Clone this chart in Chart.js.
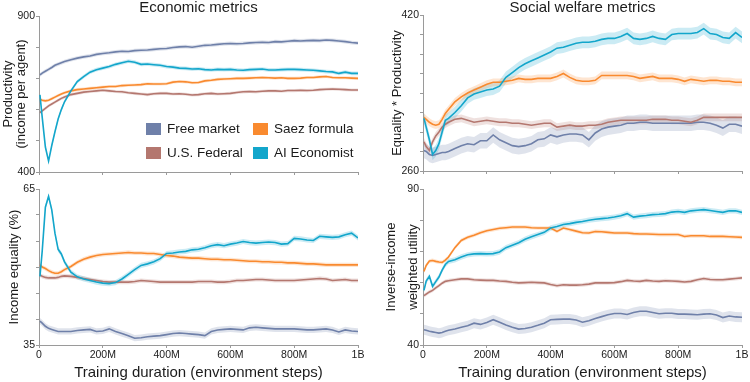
<!DOCTYPE html>
<html>
<head>
<meta charset="utf-8">
<script src="https://cdn.jsdelivr.net/npm/chart.js@4/dist/chart.umd.min.js"></script>
<style>
  body { margin: 0; background: #fff; }
  .panel { position: absolute; }
  .panel canvas { display: block; }
</style>
</head>
<body>
<div class="panel" style="left:0;top:0"><canvas id="prod" width="375" height="182"></canvas></div>
<div class="panel" style="left:375px;top:0"><canvas id="eqprod" width="375" height="182"></canvas></div>
<div class="panel" style="left:0;top:180px"><canvas id="equality" width="375" height="202"></canvas></div>
<div class="panel" style="left:375px;top:180px"><canvas id="utility" width="375" height="202"></canvas></div>
<script>
Chart.defaults.font.family = '"Liberation Sans", Arial, sans-serif';
Chart.defaults.color = '#1b1b1b';

// training steps, in millions
var xSteps = [3, 10, 20, 30, 40, 50, 60, 70, 80,
  100, 120, 140, 160, 180, 200, 220, 240, 260, 280, 300, 320, 340, 360, 380,
  400, 420, 440, 460, 480, 500, 520, 540, 560, 580, 600, 620, 640, 660, 680,
  700, 720, 740, 760, 780, 800, 820, 840, 860, 880, 900, 920, 940, 960, 980, 1000];

var seriesNames = ['Free market', 'Saez formula', 'U.S. Federal', 'AI Economist'];
var lineColors = ['#6f80a9', '#f98a2f', '#b4776f', '#13a6cb'];
var bandColors = ['rgba(111,128,169,0.22)', 'rgba(249,138,47,0.22)', 'rgba(180,119,111,0.22)', 'rgba(19,166,203,0.22)'];
var lineOrder = [4, 2, 3, 1];

// Productivity (income per agent)
var prodFree = [711,717,723,729,735,742,746,750,754, 760,765,769,772,777, 780,782,785,787,786, 789,790,791,793,795, 796,799,801,802,800, 803,806,807,809,811, 812,811,812,814,815, 816,815,818,817,819, 821,820,821,822,821, 823,822,820,818,815, 813];
var prodSaez = [633,630,628,630,635,640,645,650,654, 660,664,666,668,670, 672,674,674,677,678, 679,680,683,682,682, 683,688,690,689,686, 687,692,694,697,698, 699,700,700,701,702, 703,702,701,702,700, 700,701,703,703,705, 706,703,702,702,701, 700];
var prodUS = [590,596,604,612,618,624,630,636,640, 648,652,656,658,660, 662,660,658,657,654, 652,650,648,651,652, 652,650,651,649,647, 648,651,652,650,651, 652,655,657,658,657, 659,660,660,659,661, 661,662,661,662,664, 665,666,665,664,663, 663];
var prodAI = [647,576,480,435,485,529,570,600,625, 660,690,706,720,728, 733,738,745,750,755, 752,745,746,744,742, 738,736,733,732,730, 731,728,727,729,728, 729,727,726,728,729, 730,727,727,728,729, 729,728,727,726,724, 722,721,716,720,716, 716];
var prodBands = [6, 5, 5, 6];

// Equality * Productivity
var eqFree = [281,280,277,276,277,278,279,279,280, 283,286,288,287,291, 291,297,292,289,286, 285,286,288,292,293, 297,295,297,298,298, 297,292,299,303,305, 306,307,309,309,310, 310,309,309,309,309, 309,309,309,310,310, 309,307,304,308,308, 306];
var eqSaez = [315,313,310,308,307,308,313,319,323, 331,336,340,343,346, 349,351,351,352,353, 355,354,354,355,355, 355,357,360,356,353, 352,352,353,358,358, 358,358,358,357,355, 356,357,355,355,355, 354,352,354,353,352, 353,353,352,352,351, 351];
var eqUS = [290,285,281,290,296,300,305,308,310, 313,314,312,310,311, 312,311,310,310,309, 309,308,307,308,309, 309,305,306,307,306, 306,307,307,308,310, 311,312,312,312,312, 312,313,313,313,312, 312,311,310,312,315, 315,315,315,315,315, 315];
var eqAI = [314,305,292,277,281,288,300,312,314, 320,327,335,339,341, 343,344,347,356,361, 366,370,373,376,379, 382,386,387,389,391, 392,392,393,395,396, 396,398,401,396,395, 396,398,396,395,400, 401,401,401,402,406, 401,400,397,396,402, 397];
var eqBands = [8, 4, 4, 6];

// Income equality (%)
var equFree = [39.6,39.2,38.6,38.2,38.0,37.8,37.6,37.6,37.6, 37.6,37.8,37.9,38.0,37.6, 37.7,38.1,37.6,37.2,36.8, 36.3,36.4,36.6,36.7,36.8, 37.0,37.2,37.3,37.2,37.1, 37.0,36.8,37.6,37.9,38.0, 38.1,38.0,37.9,38.3,38.4, 38.3,38.2,38.1,38.1,38.1, 38.1,38.0,37.9,37.9,38.0, 38.1,37.9,37.5,37.9,37.7, 37.6];
var equSaez = [50.4,50.0,49.7,49.3,49.0,48.8,48.8,49.1,49.5, 50.1,50.9,51.5,51.9,52.2, 52.4,52.5,52.6,52.7,52.8, 52.7,52.7,52.6,52.6,52.4, 52.2,52.1,51.9,51.8,51.7, 51.7,51.6,51.5,51.5,51.4, 51.4,51.3,51.2,51.1,51.1, 51.0,51.0,50.9,50.9,50.8, 50.8,50.7,50.6,50.6,50.5, 50.4,50.4,50.4,50.4,50.4, 50.4];
var equUS = [48.5,48.2,48.0,47.9,47.9,47.9,48.0,48.2,48.3, 48.2,48.0,47.8,47.6,47.4, 47.2,47.1,47.1,47.1,47.1, 47.2,47.4,47.3,47.2,47.1, 47.1,47.1,47.1,47.1,47.1, 47.2,47.2,47.2,47.1,47.1, 47.2,47.4,47.4,47.5,47.6, 47.6,47.5,47.4,47.4,47.4, 47.4,47.5,47.6,47.7,47.8, 47.7,47.4,47.5,47.6,47.4, 47.4];
var equAI = [48.2,53.0,61.5,63.6,61.0,56.5,53.4,52.5,51.0, 49.0,48.1,47.7,47.4,47.1, 46.9,46.8,47.0,47.7,48.6, 49.5,50.3,50.6,51.0,51.6, 52.6,52.7,52.9,53.0,53.3, 53.4,53.7,54.1,54.3,54.1, 54.4,54.6,54.9,54.7,54.6, 54.7,54.8,54.7,54.4,54.5, 55.5,55.4,55.2,55.1,55.9, 55.8,55.7,55.8,56.2,56.5, 55.6];
var equBands = [0.6, 0.4, 0.4, 0.5];

// Inverse-income weighted utility
var utilFree = [44.9,44.7,44.4,44.2,44.0,43.8,44.0,44.4,44.7, 45.1,45.7,46.2,47.0,46.6, 47.2,48.1,47.3,46.4,45.7, 45.1,45.3,45.7,46.3,47.0, 48.1,48.2,48.3,48.3,48.0, 47.3,47.8,48.5,49.1,49.7, 50.1,50.1,49.8,50.4,50.8, 50.8,50.4,50.0,50.2,50.2, 49.9,49.9,49.8,49.7,49.9, 50.0,49.6,48.8,49.3,49.0, 48.9];
var utilSaez = [63.6,65.5,66.9,67.1,66.8,66.6,66.5,67.2,68.2, 71.2,73.5,74.5,75.2,76.0, 76.6,77.0,77.4,77.6,77.8, 77.8,77.8,77.6,77.5,77.5, 77.5,76.4,77.5,77.0,76.5, 76.0,75.9,76.4,76.3,76.1, 75.9,75.9,75.9,75.7,75.6, 75.6,75.5,75.4,75.4,75.4, 75.4,74.8,75.0,75.0,75.0, 74.8,74.8,74.8,74.7,74.6, 74.5];
var utilUS = [55.8,56.3,57.0,57.5,58.3,59.0,59.8,60.4,60.6, 60.9,61.2,61.2,60.9,60.8, 60.7,60.7,60.5,60.4,60.1, 59.9,60.0,60.1,60.0,59.9, 59.4,59.0,59.3,59.2,59.2, 59.3,59.5,59.9,59.9,59.9, 60.0,60.3,60.7,60.5,60.4, 60.7,60.5,60.4,60.6,60.5, 60.4,60.2,60.4,60.9,61.3, 61.0,60.9,60.9,61.1,61.3, 61.5];
var utilAI = [57.5,60.5,62.0,58.8,60.3,61.8,64.0,65.8,66.8, 67.3,68.2,68.9,69.2,69.3, 69.2,69.3,69.8,71.2,72.0, 72.8,73.9,74.7,75.4,76.1, 77.5,78.0,78.6,78.9,79.3, 79.6,80.0,80.3,80.5,80.7, 81.0,81.4,82.1,81.0,81.3, 81.5,81.8,81.9,82.1,82.6, 82.8,82.5,83.0,83.2,83.4, 83.1,82.8,82.5,83.0,83.0, 82.5];
var utilBands = [1.6, 0.6, 0.6, 0.85];

function points(vals, shift) {
  return vals.map(function(v, k) { return { x: xSteps[k], y: v + shift }; });
}

function buildDatasets(series, bands) {
  var sets = [];
  // shaded bands first: upper edge, then lower edge filled back to it
  series.forEach(function(vals, i) {
    sets.push({ data: points(vals, bands[i]), borderWidth: 0, borderColor: 'transparent', pointRadius: 0, fill: false, order: 10 });
    sets.push({ data: points(vals, -bands[i]), borderWidth: 0, borderColor: 'transparent', pointRadius: 0, fill: '-1', backgroundColor: bandColors[i], order: 10 });
  });
  series.forEach(function(vals, i) {
    sets.push({ label: seriesNames[i], data: points(vals, 0), borderColor: lineColors[i], borderWidth: 1.6, pointRadius: 0, fill: false, order: lineOrder[i] });
  });
  return sets;
}

var legendBox = {
  id: 'legendBox',
  afterDraw: function(chart) {
    var ctx = chart.ctx;
    var a = chart.chartArea;
    ctx.save();
    ctx.font = '13.5px "Liberation Sans", Arial, sans-serif';
    ctx.textBaseline = 'middle';
    seriesNames.forEach(function(name, i) {
      var x = a.left + 107 + (i % 2) * 107;
      var y = a.top + 113 + Math.floor(i / 2) * 24;
      ctx.fillStyle = lineColors[i];
      ctx.fillRect(x, y - 6, 15, 12);
      ctx.fillStyle = '#1b1b1b';
      ctx.fillText(name, x + 21, y);
    });
    ctx.restore();
  }
};

function makePanel(id, cfg) {
  var yMin = cfg.yRange[0], yMax = cfg.yRange[1];
  new Chart(document.getElementById(id), {
    type: 'line',
    data: { datasets: buildDatasets(cfg.series, cfg.bands) },
    options: {
      responsive: false,
      animation: false,
      events: [],
      layout: { padding: cfg.padding },
      plugins: {
        legend: { display: false },
        tooltip: { enabled: false },
        filler: { drawTime: 'beforeDatasetsDraw' },
        title: {
          display: !!cfg.title,
          text: cfg.title || '',
          fullSize: false,
          color: '#1b1b1b',
          font: { size: 15, weight: 'normal', lineHeight: 1 },
          padding: { top: 0, bottom: cfg.titleGap || 0 }
        }
      },
      scales: {
        x: {
          type: 'linear',
          min: 0,
          max: 1000,
          afterFit: function(scale) { scale.height = cfg.xHeight; },
          grid: { drawOnChartArea: false, tickLength: 3, color: '#9a9a9a' },
          border: { color: '#9a9a9a' },
          ticks: {
            display: cfg.xLabels,
            stepSize: 200,
            padding: 1,
            font: { size: 10.5 },
            maxRotation: 0,
            callback: function(v) { return v === 0 ? '0' : v === 1000 ? '1B' : v + 'M'; }
          },
          title: {
            display: cfg.xLabels,
            text: 'Training duration (environment steps)',
            font: { size: 15, lineHeight: 1.2 },
            padding: 0
          }
        },
        y: {
          min: yMin,
          max: yMax,
          afterFit: function(scale) { scale.width = cfg.yWidth; },
          grid: { drawOnChartArea: false, tickLength: 3, color: '#9a9a9a' },
          border: { color: '#9a9a9a' },
          ticks: {
            stepSize: cfg.yStep,
            padding: 1,
            autoSkip: false,
            font: { size: 10.5 },
            callback: function(v) { return (v === yMin || v === yMax) ? v : ''; }
          },
          title: {
            display: true,
            text: cfg.yTitle,
            font: { size: 13, lineHeight: cfg.yLine },
            padding: { top: cfg.yPad, bottom: 0 }
          }
        }
      }
    },
    plugins: cfg.legend ? [legendBox] : []
  });
}

makePanel('prod', {
  series: [prodFree, prodSaez, prodUS, prodAI], bands: prodBands,
  title: 'Economic metrics', titleGap: 1, legend: true,
  padding: { left: 0, top: 0, right: 17, bottom: 0 },
  xHeight: 10, xLabels: false, yWidth: 39,
  yRange: [400, 900], yStep: 100,
  yTitle: ['Productivity', '(income per agent)'], yLine: 1, yPad: 1.5
});

makePanel('eqprod', {
  series: [eqFree, eqSaez, eqUS, eqAI], bands: eqBands,
  title: 'Social welfare metrics', titleGap: 0,
  padding: { left: 0, top: 0, right: 8, bottom: 0 },
  xHeight: 11, xLabels: false, yWidth: 48,
  yRange: [260, 420], yStep: 20,
  yTitle: 'Equality * Productivity', yLine: 1, yPad: 15.5
});

makePanel('equality', {
  series: [equFree, equSaez, equUS, equAI], bands: equBands,
  padding: { left: 0, top: 9, right: 17, bottom: 0 },
  xHeight: 37, xLabels: true, yWidth: 39,
  yRange: [35, 65], yStep: 5,
  yTitle: 'Income equality (%)', yLine: 1, yPad: 7.5
});

makePanel('utility', {
  series: [utilFree, utilSaez, utilUS, utilAI], bands: utilBands,
  padding: { left: 0, top: 9, right: 8, bottom: 0 },
  xHeight: 37, xLabels: true, yWidth: 48,
  yRange: [40, 90], yStep: 10,
  yTitle: ['Inverse-income', 'weighted utility'], yLine: 1.66, yPad: 6
});
</script>
</body>
</html>
